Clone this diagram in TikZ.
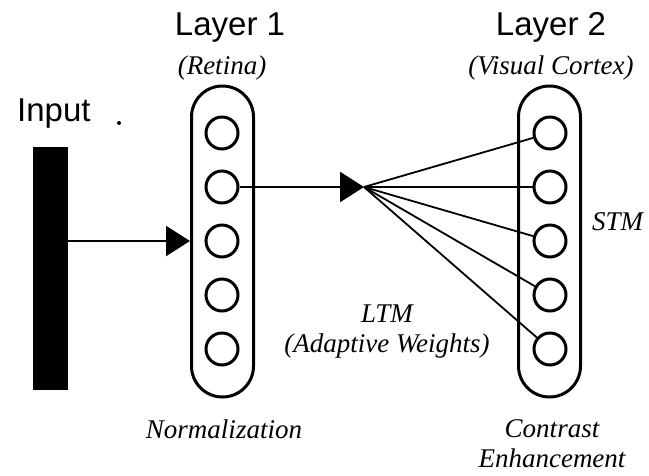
\documentclass[tikz,border=0pt]{standalone}
\usepackage{fontspec}
\setmainfont{Liberation Serif}
\setsansfont{Liberation Sans}
\usetikzlibrary{arrows.meta}
\begin{document}
\begin{tikzpicture}[x=1pt,y=-1pt,
  title/.style={font=\sffamily\fontsize{33}{38}\selectfont, anchor=base, inner sep=0pt},
  note/.style={font=\itshape\fontsize{27}{32}\selectfont, anchor=base, inner sep=0pt},
  layerpill/.style={draw, line width=3pt, minimum width=62pt, minimum height=311pt,
    rounded corners=31pt, inner sep=0pt},
  unit/.style={draw, circle, line width=3pt, minimum size=32pt, inner sep=0pt},
  feed/.style={line width=2.4pt, -{Triangle[length=24pt,width=30pt]}},
  weight/.style={line width=1.8pt}
]
\useasboundingbox (0,0) rectangle (649,475);

% the two layers
\node[layerpill] (pill1) at (222.5,241.5) {};
\node[layerpill] (pill2) at (549.5,241.5) {};
\foreach \i/\y in {1/133,2/187,3/241,4/295,5/349} {
  \node[unit] (a\i) at (222,\y) {};
  \node[unit] (b\i) at (550,\y) {};
}

% input pattern
\node[fill=black, minimum width=35pt, minimum height=243pt, inner sep=0pt] (bar) at (50.5,268.5) {};
\fill (119,123) circle (2pt);

% connections
\draw[feed] (bar.east |- a3) -- (pill1.west |- a3);
\coordinate (hub) at (364,187);
\draw[feed] (a2.east) -- (hub);
\foreach \i in {1,...,5} \draw[weight] (hub) -- (b\i);

% labels
\node[title] (t1) at (230,35) {Layer 1};
\node[title] (t2) at (551,35) {Layer 2};
\node[title, anchor=base west] (tin) at (17,121) {Input};
\node[note] (r1) at (222,74) {(Retina)};
\node[note] (r2) at (551,74) {(Visual Cortex)};
\node[note, anchor=base west] (stm) at (592,230) {STM};
\node[note] (ltm) at (387,322) {LTM};
\node[note] (adw) at (387,352) {(Adaptive Weights)};
\node[note] (nrm) at (224,438) {Normalization};
\node[note] (con) at (552,437) {Contrast};
\node[note] (enh) at (552,467) {Enhancement};
\end{tikzpicture}
\end{document}
